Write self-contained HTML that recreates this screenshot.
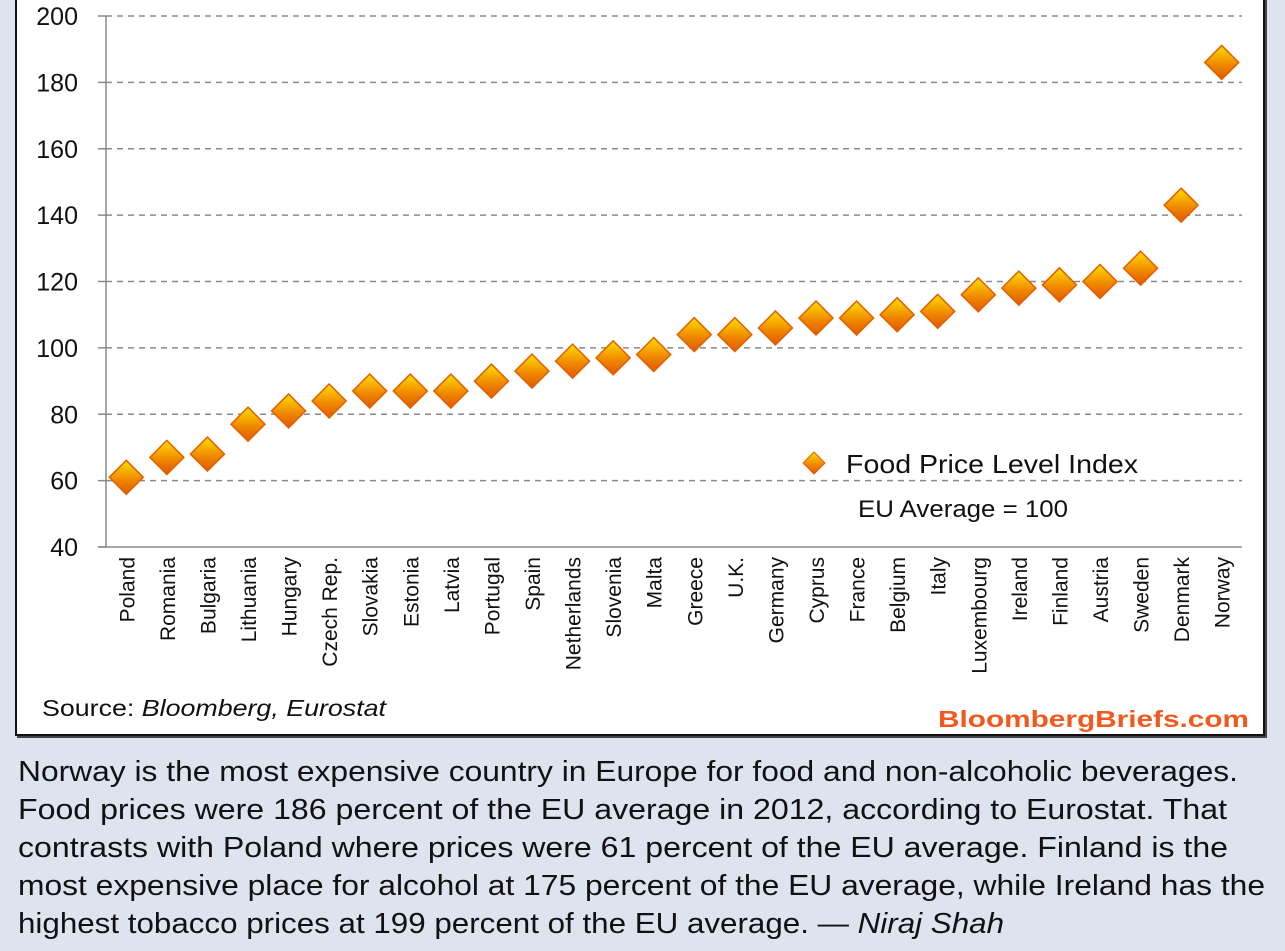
<!DOCTYPE html>
<html><head><meta charset="utf-8"><style>
html,body{margin:0;padding:0;background:#dde4f0;}
#wrap{position:relative;width:1285px;height:951px;overflow:hidden;background:#dde4f0;font-family:"Liberation Sans",sans-serif;}
#box{position:absolute;left:15px;top:-4px;width:1250px;height:740px;background:#fff;border:2px solid #111;box-sizing:border-box;box-shadow:2px 2px 0 #444;}
#cap{position:absolute;left:18px;top:753px;width:1267px;font-size:29px;line-height:38px;color:#111;}
#cap span{display:inline-block;white-space:nowrap;transform-origin:0 50%;}
</style></head><body>
<div id="wrap">
<div id="box"></div>
<svg id="svg" width="1285" height="740" style="position:absolute;left:0;top:0">
<defs><linearGradient id="g" x1="0" y1="0" x2="0" y2="1"><stop offset="0" stop-color="#ffe000"/><stop offset="0.55" stop-color="#f08a00"/><stop offset="1" stop-color="#e05800"/></linearGradient></defs>
</svg>
<div id="cap"><span data-w="1220">Norway is the most expensive country in Europe for food and non-alcoholic beverages.</span><br><span data-w="1209">Food prices were 186 percent of the EU average in 2012, according to Eurostat. That</span><br><span data-w="1210">contrasts with Poland where prices were 61 percent of the EU average. Finland is the</span><br><span data-w="1247">most expensive place for alcohol at 175 percent of the EU average, while Ireland has the</span><br><span data-w="986">highest tobacco prices at 199 percent of the EU average. — <i>Niraj Shah</i></span></div>
</div>
<script>
const categories=["Poland","Romania","Bulgaria","Lithuania","Hungary","Czech Rep.","Slovakia","Estonia","Latvia","Portugal","Spain","Netherlands","Slovenia","Malta","Greece","U.K.","Germany","Cyprus","France","Belgium","Italy","Luxembourg","Ireland","Finland","Austria","Sweden","Denmark","Norway"];
const values=[61,67,68,77,81,84,87,87,87,90,93,96,97,98,104,104,106,109,109,110,111,116,118,119,120,124,143,186];
const yTicks=[40,60,80,100,120,140,160,180,200];
const NS="http://www.w3.org/2000/svg";
const svg=document.getElementById('svg');
const x0=106,x1=1242,y0=547,y1=16,ymin=40,ymax=200;
const band=(x1-x0)/categories.length;
function xs(i){return x0+band*(i+0.5);}
function ys(v){return y0-(v-ymin)/(ymax-ymin)*(y0-y1);}
function mk(t,a){const e=document.createElementNS(NS,t);for(const k in a)e.setAttribute(k,a[k]);svg.appendChild(e);return e;}
yTicks.forEach(t=>{
 const y=ys(t);
 if(t>ymin){const l=mk('line',{x1:x0,x2:x1,y1:y,y2:y,stroke:'#8a8a8a','stroke-width':1.5,'stroke-dasharray':'6,5'});
 
 }
 const tk=mk('line',{x1:x0-8,x2:x0,y1:y,y2:y,stroke:'#8a8a8a','stroke-width':1.5});
 
 
 const tx=mk('text',{x:78,y:y+9,'text-anchor':'end','font-size':25,fill:'#111','font-family':'Liberation Sans, sans-serif'});
 tx.textContent=t;
 
 
});
const ya=mk('line',{x1:x0,x2:x0,y1:y1,y2:y0,stroke:'#8a8a8a','stroke-width':1.5});


const xa=mk('line',{x1:x0-8,x2:x1,y1:y0,y2:y0,stroke:'#8a8a8a','stroke-width':1.5});


categories.forEach((c,i)=>{
 const x=xs(i);
 const t=mk('text',{x:0,y:0,transform:`translate(${x+8},557) rotate(-90)`,'text-anchor':'end','font-size':21,fill:'#111','font-family':'Liberation Sans, sans-serif'});
 t.textContent=c;
 
 
 const y=ys(values[i]),r=17;
 const d=mk('polygon',{points:`${x},${y-r} ${x+r},${y} ${x},${y+r} ${x-r},${y}`,fill:'url(#g)',stroke:'#e06000','stroke-width':1.5});
 
 
});
const lg=mk('polygon',{points:'814,452 825,463 814,474 803,463',fill:'url(#g)',stroke:'#e06000','stroke-width':1});


const lt=mk('text',{x:846,y:473,'font-size':26,fill:'#111','font-family':'Liberation Sans, sans-serif',textLength:292,lengthAdjust:'spacingAndGlyphs'});
lt.textContent='Food Price Level Index';


const eu=mk('text',{x:858,y:517,'font-size':24,fill:'#111','font-family':'Liberation Sans, sans-serif',textLength:210,lengthAdjust:'spacingAndGlyphs'});
eu.textContent='EU Average = 100';


const src=mk('text',{x:42,y:716,'font-size':23,fill:'#111','font-family':'Liberation Sans, sans-serif',textLength:344,lengthAdjust:'spacingAndGlyphs'});
src.innerHTML='Source: <tspan font-style="italic">Bloomberg, Eurostat</tspan>';


const bb=mk('text',{x:938,y:727,'font-size':23,fill:'#f05a1e','font-weight':'bold','font-family':'Liberation Sans, sans-serif',textLength:311,lengthAdjust:'spacingAndGlyphs'});
bb.textContent='BloombergBriefs.com';


document.querySelectorAll('#cap span').forEach(s=>{
 const w=s.getBoundingClientRect().width;
 const target=+s.getAttribute('data-w');
 s.style.transform='scaleX('+(target/w)+')';
});
</script>
</body></html>
